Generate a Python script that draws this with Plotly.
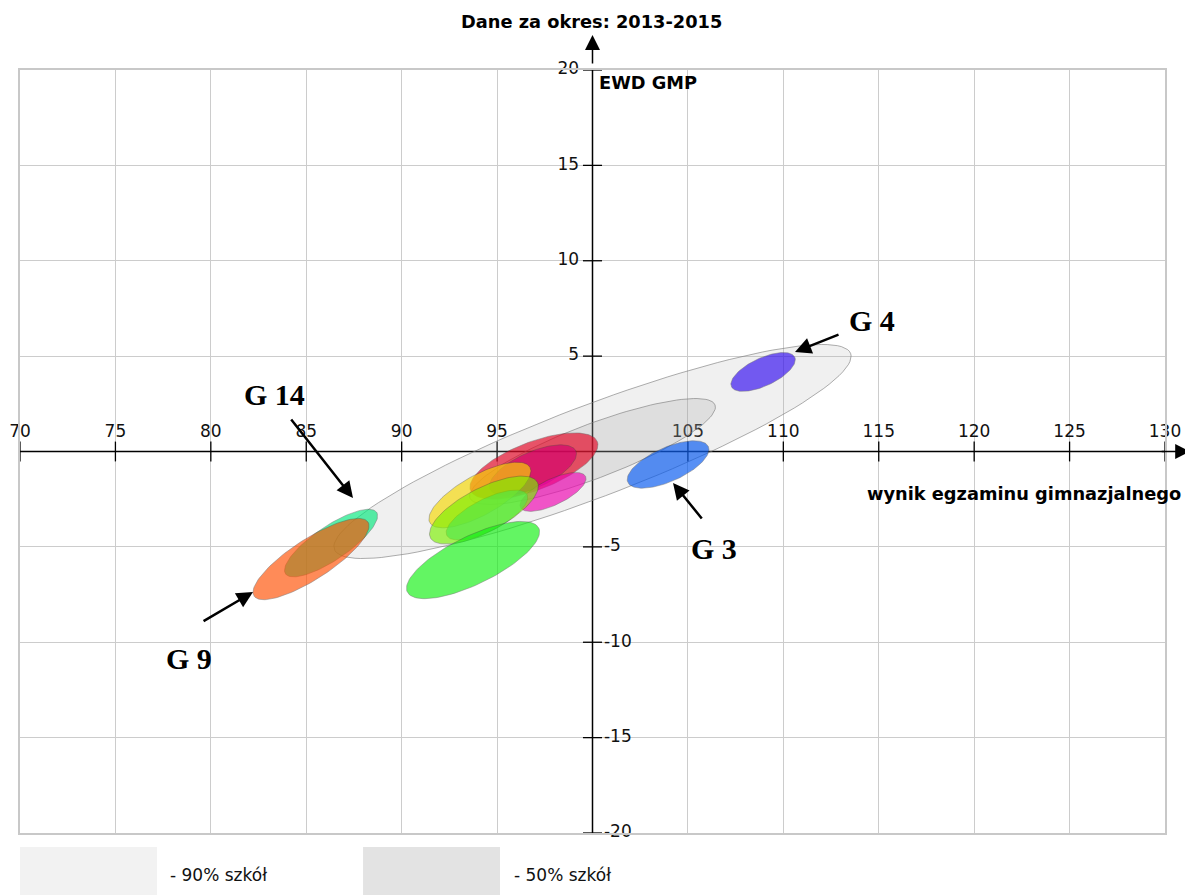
import numpy as np
import plotly.graph_objects as go

# zakresy osi
x_ticks = [70, 75, 80, 85, 90, 95, 105, 110, 115, 120, 125, 130]
y_ticks_pos = [5, 10, 15, 20]
y_ticks_neg = [-5, -10, -15, -20]

# elipsy szarych obszarów (90% i 50% szkół)
band_names = ['90% szkół', '50% szkół']
band_cx = [100.0, 100.0]
band_cy = [0.0, 0.0]
band_a = [14.47, 6.87]
band_b = [2.41, 1.42]
band_angle = [20.8, 20.8]
band_fill = ['rgba(170,170,170,0.18)', 'rgba(150,150,150,0.2)']

# elipsy gimnazjów
school_names = ['G 4', 'G 3', 'red', 'deep pink', 'pink', 'yellow', 'cyan', 'lime',
                'green', 'G 14', 'G 9']
school_cx = [108.94, 103.96, 96.93, 96.88, 97.93, 94.10, 94.47, 94.31, 93.74, 86.30, 85.25]
school_cy = [4.17, -0.68, -0.76, -0.97, -2.12, -2.28, -3.33, -3.07, -5.69, -4.80, -5.64]
school_a = [1.83, 2.31, 3.56, 2.46, 1.89, 3.00, 2.36, 3.16, 3.83, 2.88, 3.56]
school_b = [0.73, 0.89, 1.26, 0.94, 0.68, 1.05, 0.84, 1.15, 1.26, 0.89, 1.05]
school_angle = [25, 24, 21, 24, 25.5, 29, 27, 27.5, 26, 34, 33]
school_color = ['#2f09f0', '#0056f0', '#e50020', '#d3006e', '#f001b2', '#f7d900',
                '#00d9c9', '#7cf001', '#11f011', '#01e87c', '#ff4e00']


def ellipse(cx, cy, a, b, ang):
    t = np.linspace(0, 2 * np.pi, 120)
    th = np.radians(ang)
    x = cx + a * np.cos(th) * np.cos(t) - b * np.sin(th) * np.sin(t)
    y = cy + a * np.sin(th) * np.cos(t) + b * np.cos(th) * np.sin(t)
    return x, y


fig = go.Figure()

# osie (czarne linie przez punkt 100, 0)
fig.add_trace(go.Scatter(x=[70, 130], y=[0, 0], mode='lines',
                         line=dict(color='black', width=1.5), hoverinfo='skip'))
fig.add_trace(go.Scatter(x=[100, 100], y=[-20, 20], mode='lines',
                         line=dict(color='black', width=1.5), hoverinfo='skip'))

# znaczniki podziałki
tx, ty = [], []
for v in x_ticks:
    tx += [v, v, None]
    ty += [-0.52, 0.52, None]
for v in y_ticks_pos + y_ticks_neg:
    tx += [99.5, 100.5, None]
    ty += [v, v, None]
fig.add_trace(go.Scatter(x=tx, y=ty, mode='lines', line=dict(color='black', width=1.3),
                         hoverinfo='skip'))

tick_font = dict(family='DejaVu Sans', size=17, color='#111')
fig.add_trace(go.Scatter(x=x_ticks, y=[1.0] * len(x_ticks), mode='text',
                         text=[str(v) for v in x_ticks], textposition='middle center',
                         textfont=tick_font, cliponaxis=False, hoverinfo='skip'))
fig.add_trace(go.Scatter(x=[99.3] * len(y_ticks_pos), y=y_ticks_pos, mode='text',
                         text=[str(v) for v in y_ticks_pos], textposition='middle left',
                         textfont=tick_font, cliponaxis=False, hoverinfo='skip'))
fig.add_trace(go.Scatter(x=[100.6] * len(y_ticks_neg), y=y_ticks_neg, mode='text',
                         text=[str(v) for v in y_ticks_neg], textposition='middle right',
                         textfont=tick_font, cliponaxis=False, hoverinfo='skip'))

# szare obszary
for i in range(len(band_names)):
    ex, ey = ellipse(band_cx[i], band_cy[i], band_a[i], band_b[i], band_angle[i])
    fig.add_trace(go.Scatter(x=ex, y=ey, mode='lines', fill='toself', fillcolor=band_fill[i],
                             line=dict(color='rgba(120,120,120,0.6)', width=1),
                             name=band_names[i], hoverinfo='skip'))

# elipsy szkół
for i in range(len(school_names)):
    ex, ey = ellipse(school_cx[i], school_cy[i], school_a[i], school_b[i], school_angle[i])
    fig.add_trace(go.Scatter(x=ex, y=ey, mode='lines', fill='toself',
                             fillcolor=school_color[i], opacity=0.65,
                             line=dict(color='rgba(60,60,60,0.5)', width=1),
                             name=school_names[i], hoverinfo='skip'))

bold = dict(family='DejaVu Sans', size=17.8, color='black')
serif = dict(family='Liberation Serif', size=30, color='black')

annotations = [
    dict(text='<b>Dane za okres: 2013-2015</b>', xref='paper', yref='paper',
         x=0.4987, y=1.063, yanchor='middle', showarrow=False, font=bold),
    dict(text='<b>EWD GMP</b>', xref='x', yref='y', x=100, y=19.37, xanchor='left',
         xshift=4, showarrow=False, font=bold),
    dict(text='<b>wynik egzaminu gimnazjalnego</b>', xref='paper', yref='y', x=1.0157,
         y=-2.18, xanchor='right', showarrow=False, font=bold),
    # strzałki osi
    dict(xref='paper', yref='y', x=1.022, y=0, axref='pixel', ayref='pixel', ax=-30, ay=0,
         showarrow=True, arrowhead=2, arrowsize=2, arrowwidth=1.5, arrowcolor='black',
         standoff=0, text=''),
    dict(xref='x', yref='paper', x=100, y=1.046, axref='pixel', ayref='pixel', ax=0, ay=30,
         showarrow=True, arrowhead=2, arrowsize=2, arrowwidth=1.5, arrowcolor='black',
         standoff=0, text=''),
    # etykiety szkół
    dict(text='<b>G 4</b>', x=114.65, y=6.89, showarrow=False, font=serif),
    dict(text='<b>G 3</b>', x=106.37, y=-5.06, showarrow=False, font=serif),
    dict(text='<b>G 9</b>', x=78.86, y=-10.83, showarrow=False, font=serif),
    dict(text='<b>G 14</b>', x=83.31, y=2.97, showarrow=False, font=serif),
]

arrows = [((110.61, 5.22), (112.97, 6.16)),
          ((104.22, -1.65), (105.79, -3.59)),
          ((82.21, -7.37), (79.54, -8.94)),
          ((87.45, -2.44), (84.15, 1.76))]
for (hx, hy), (txx, tyy) in arrows:
    annotations.append(dict(x=hx, y=hy, ax=txx, ay=tyy, xref='x', yref='y', axref='x',
                            ayref='y', showarrow=True, arrowhead=2, arrowsize=1.3,
                            arrowwidth=2.5, arrowcolor='black', standoff=0, text=''))

# legenda na dole
leg_font = dict(family='DejaVu Sans', size=17, color='#111')
annotations += [
    dict(text='- 90% szkół', xref='paper', yref='paper', x=0.1293, y=-0.055,
         xanchor='left', yanchor='middle', showarrow=False, font=leg_font),
    dict(text='- 50% szkół', xref='paper', yref='paper', x=0.4297, y=-0.055,
         xanchor='left', yanchor='middle', showarrow=False, font=leg_font),
]
shapes = [
    dict(type='rect', xref='paper', yref='paper', x0=0, x1=0.1197, y0=-0.082, y1=-0.0184,
         fillcolor='#f2f2f2', line=dict(width=0)),
    dict(type='rect', xref='paper', yref='paper', x0=0.2996, x1=0.4192, y0=-0.082, y1=-0.0184,
         fillcolor='#e3e3e3', line=dict(width=0)),
]

# strona ma 8 px marginesu, więc figura jest o tyle mniejsza
fig.update_layout(
    width=1185, height=887,
    margin=dict(l=12, r=28, t=62, b=62),
    paper_bgcolor='white', plot_bgcolor='white',
    showlegend=False,
    annotations=annotations,
    shapes=shapes,
    xaxis=dict(range=[70, 130], dtick=5, tick0=70, showgrid=True, gridcolor='#cccccc',
               gridwidth=1.3, zeroline=False, showticklabels=False, ticks='',
               showline=True, mirror=True, linecolor='#c8c8c8', linewidth=1.5,
               fixedrange=True),
    yaxis=dict(range=[-20, 20], dtick=5, tick0=0, showgrid=True, gridcolor='#cccccc',
               gridwidth=1.3, zeroline=False, showticklabels=False, ticks='',
               showline=True, mirror=True, linecolor='#c8c8c8', linewidth=1.5,
               fixedrange=True),
)

fig.write_html("out.html")
